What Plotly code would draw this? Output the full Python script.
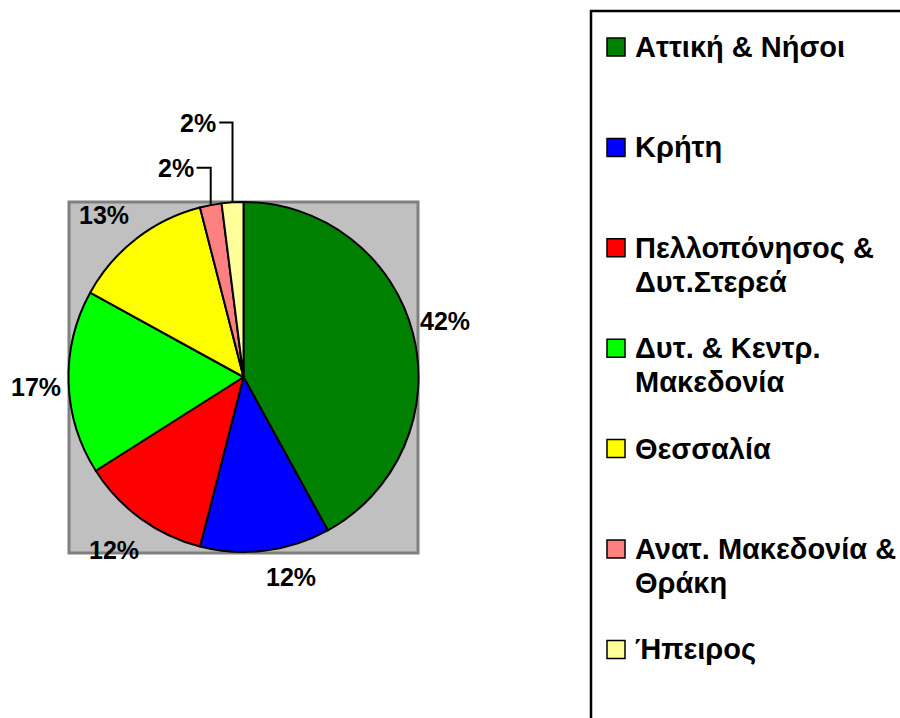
import math
import plotly.graph_objects as go

# ---- data ----
regions = ["Αττική & Νήσοι", "Κρήτη", "Πελλοπόνησος &<br>Δυτ.Στερεά",
           "Δυτ. & Κεντρ.<br>Μακεδονία", "Θεσσαλία",
           "Ανατ. Μακεδονία &<br>Θράκη", "Ήπειρος"]
shares = [42, 12, 12, 17, 13, 2, 2]
colors = ["#008000", "#0000FF", "#FF0000", "#00FF00", "#FFFF00", "#FF8080", "#FFFF99"]

# ---- layout constants (screen pixels) ----
W, H = 900, 718
CX, CY, R = 243.5, 377.0, 175.0
# label placement: (distance from centre, angle shift in degrees) per slice
label_place = [(209, -1.0), (206, -6.1), (216, 0.8), (208, -1.0), (214, -2.8), (220, -7.2), (258.5, -6.5)]
leader_slices = [5, 6]
FONT = "Liberation Sans, Arial, sans-serif"
LAB_SIZE = 25
LEG_SIZE = 29
LEG_X0, LEG_TOP, LEG_STEP, LEG_LINE = 607, 47, 100.4, 34


def px(x):
    return x / W


def py(y):
    return 1 - y / H


fig = go.Figure()
fig.add_trace(go.Pie(
    labels=[r.replace("<br>", " ") for r in regions],
    values=shares,
    sort=False,
    direction="clockwise",
    rotation=0,
    marker=dict(colors=colors, line=dict(color="black", width=2)),
    textinfo="none",
    hoverinfo="label+percent",
    showlegend=False,
    domain=dict(x=[px(CX - R), px(CX + R)], y=[py(CY + R), py(CY - R)]),
))

shapes = []
annotations = []

# grey plot area
shapes.append(dict(type="rect", xref="paper", yref="paper", layer="below",
                   x0=px(69), x1=px(418), y0=py(553), y1=py(202),
                   fillcolor="#C0C0C0", line=dict(color="#808080", width=3)))

# percentage labels
total = sum(shares)
cum = 0
for i, v in enumerate(shares):
    mid = (cum + v / 2) / total * 360
    cum += v
    dist, shift = label_place[i]
    a = math.radians(mid + shift)
    lx = CX + dist * math.sin(a)
    ly = CY - dist * math.cos(a)
    txt = f"{round(v / total * 100)}%"
    annotations.append(dict(x=px(lx), y=py(ly), xref="paper", yref="paper",
                            text=txt, showarrow=False, xanchor="center", yanchor="middle",
                            font=dict(family=FONT, size=LAB_SIZE, color="black", weight="bold")))
    if i in leader_slices:
        am = math.radians(mid)
        ex = CX + R * math.sin(am)
        ey = CY - R * math.cos(am)
        half_w = 0.5 * 1.445 * LAB_SIZE
        hx = lx + half_w + 3
        shapes.append(dict(type="path", xref="paper", yref="paper",
                           path=f"M {px(hx)},{py(ly)} L {px(ex)},{py(ly)} L {px(ex)},{py(ey)}",
                           line=dict(color="black", width=2)))

# legend frame (extends past the right and bottom edges, as in the original)
shapes.append(dict(type="rect", xref="paper", yref="paper",
                   x0=px(591), x1=px(960), y0=py(790), y1=py(11),
                   fillcolor="rgba(0,0,0,0)", line=dict(color="black", width=2.5)))

# legend entries
for i, (name, c) in enumerate(zip(regions, colors)):
    yc = LEG_TOP + i * LEG_STEP
    shapes.append(dict(type="rect", xref="paper", yref="paper",
                       x0=px(LEG_X0), x1=px(LEG_X0 + 18), y0=py(yc + 9), y1=py(yc - 9),
                       fillcolor=c, line=dict(color="black", width=1.5)))
    for j, line in enumerate(name.split("<br>")):
        annotations.append(dict(x=px(633), y=py(yc + j * LEG_LINE), xref="paper", yref="paper",
                                text=line, showarrow=False, xanchor="left", yanchor="middle",
                                font=dict(family=FONT, size=LEG_SIZE, color="black", weight="bold")))

fig.update_layout(
    width=W, height=H,
    margin=dict(l=0, r=0, t=0, b=0),
    paper_bgcolor="white", plot_bgcolor="white",
    showlegend=False,
    shapes=shapes, annotations=annotations,
)

fig.write_html("out.html", config={"displayModeBar": False},
               post_script="document.body.style.margin='0';document.body.style.overflow='hidden';")
